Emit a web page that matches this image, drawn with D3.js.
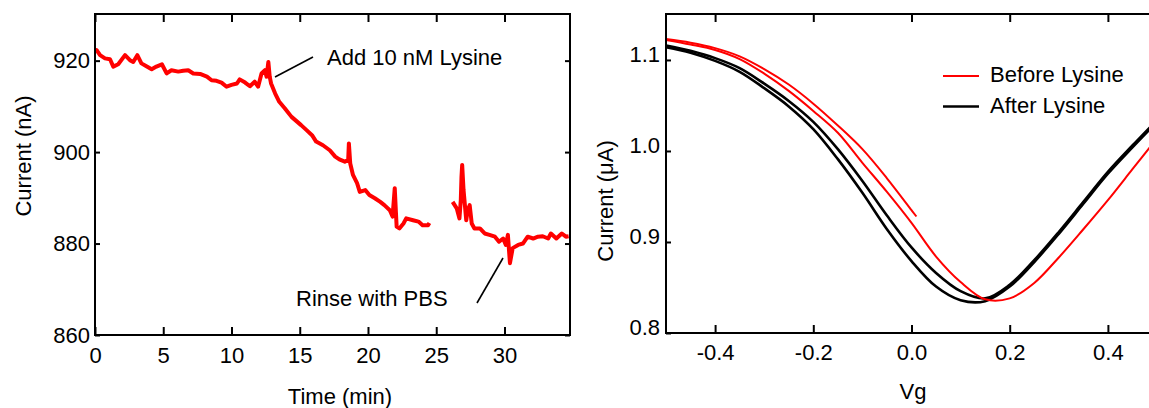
<!DOCTYPE html>
<html>
<head>
<meta charset="utf-8">
<script src="https://cdn.jsdelivr.net/npm/d3@7"></script>
<style>
  body { margin: 0; background: #fff; }
  svg text { font-family: "Liberation Sans", Arial, sans-serif; fill: #000; }
</style>
</head>
<body>
<svg id="chart" width="1149" height="408"></svg>
<script>
// ---- Real-time current trace (time in min, current in nA) ----
const timeSeg1 = [0, 0.12, 0.37, 0.73, 1.1, 1.34, 1.7, 2.2, 2.56, 2.8, 3.1, 3.4, 3.8, 4.15, 4.5, 4.9,
  5.25, 5.6, 6.1, 6.46, 6.83, 7.2, 7.7, 8.2, 8.54, 8.9, 9.27, 9.64, 10.0, 10.4, 10.6, 11.0, 11.35,
  11.7, 11.95, 12.2, 12.45, 12.57, 12.7, 12.8, 12.9, 13.2, 13.5, 13.9, 14.4, 15.1, 15.5, 15.9, 16.2,
  16.7, 17.2, 17.6, 17.9, 18.3, 18.55, 18.6, 18.7, 18.9, 19.2, 19.4, 19.8, 20.1, 20.5, 20.9, 21.2,
  21.6, 21.8, 21.96, 22.05, 22.1, 22.3, 22.6, 22.8, 23.3, 23.7, 24.0, 24.4, 24.5];
const currentSeg1 = [922.4, 922.3, 921.2, 920.5, 920.3, 918.7, 919.2, 921.2, 920.1, 919.7, 921.2, 919.4,
  918.7, 918.1, 918.7, 919.2, 917.2, 917.9, 917.6, 917.8, 917.9, 917.2, 917.1, 916.5, 915.7, 915.6,
  915.2, 914.3, 914.7, 915.0, 915.9, 915.2, 914.4, 915.4, 914.3, 917.2, 917.9, 916.5, 919.7, 916.5,
  915.0, 912.8, 911.0, 909.6, 907.7, 905.9, 904.8, 903.7, 902.3, 901.5, 900.4, 899.0, 898.4, 897.9,
  898.3, 901.9, 897.5, 895.0, 893.2, 891.3, 891.7, 890.6, 889.9, 889.1, 888.4, 887.3, 885.9, 892.1,
  886.6, 883.7, 883.3, 884.4, 885.5, 885.1, 884.8, 884.0, 884.0, 884.5];
const timeSeg2 = [26.2, 26.35, 26.5, 26.7, 26.8, 26.85, 26.9, 27.0, 27.2, 27.3, 27.45, 27.6, 27.8, 28.2,
  28.55, 28.9, 29.3, 29.6, 29.9, 30.1, 30.25, 30.4, 30.6, 31.0, 31.35, 31.7, 32.1, 32.45, 32.8, 33.2,
  33.4, 33.8, 34.2, 34.5, 34.7];
const currentSeg2 = [889.1, 888.4, 887.7, 885.5, 889.5, 894.6, 897.2, 891.7, 885.1, 887.3, 888.4, 884.4,
  883.3, 883.3, 882.2, 881.9, 881.5, 880.4, 881.1, 879.7, 881.9, 875.7, 879.0, 879.7, 880.0, 881.5,
  881.1, 881.5, 881.6, 881.1, 882.2, 881.1, 882.2, 881.5, 881.6];
const timeTicks = [0, 5, 10, 15, 20, 25, 30];
const currentTicks = [860, 880, 900, 920];

// ---- Transfer curves (Vg in V, current in µA) ----
const vgSweep = [-0.5, -0.45, -0.4, -0.35, -0.3, -0.25, -0.2, -0.15, -0.1, -0.05, 0.0, 0.05, 0.1,
  0.15, 0.2, 0.25, 0.3, 0.35, 0.4, 0.45, 0.5];
const vgPartial = [-0.5, -0.45, -0.4, -0.35, -0.3, -0.25, -0.2, -0.15, -0.1, -0.05, 0.0, 0.01];
const iBeforeA = [1.123, 1.119, 1.113, 1.104, 1.090, 1.073, 1.052, 1.028, 1.002, 0.970, 0.935, 0.928];
const iBeforeB = [1.122, 1.117, 1.111, 1.101, 1.085, 1.066, 1.044, 1.020, 0.987, 0.955, 0.921, 0.884,
  0.856, 0.837, 0.838, 0.855, 0.883, 0.914, 0.946, 0.980, 1.014];
const iAfterA = [1.114, 1.108, 1.099, 1.087, 1.069, 1.049, 1.024, 0.991, 0.954, 0.914, 0.879, 0.851,
  0.836, 0.835, 0.851, 0.878, 0.909, 0.942, 0.975, 1.004, 1.032];
const iAfterB = [1.116, 1.110, 1.102, 1.091, 1.074, 1.055, 1.032, 1.002, 0.967, 0.929, 0.894, 0.866,
  0.846, 0.838, 0.853, 0.880, 0.911, 0.944, 0.977, 1.006, 1.034];
const vgTicks = [-0.4, -0.2, 0.0, 0.2, 0.4];
const iTicks = [0.8, 0.9, 1.0, 1.1];

const legendLabels = ["Before Lysine", "After Lysine"];
const RED = "#ff0000", BLACK = "#000000";

const svg = d3.select("#chart");
const FONT = 22;

function zip(xs, ys) { return ys.map((y, i) => [xs[i], y]); }

// Frame + inward ticks on all four sides (labels on left/bottom only)
function drawFrame(g, x, y, opt) {
  const [x0, x1] = x.range(), [y0, y1] = y.range();
  const hide = () => "";
  g.append("g").attr("transform", `translate(0,${y0})`)
    .call(d3.axisBottom(x).tickValues(opt.xTicks).tickSize(-8).tickFormat(opt.xFmt))
    .call(a => a.select(".domain").remove())
    .call(a => a.selectAll("line").attr("stroke-width", 2))
    .call(a => a.selectAll("text").attr("y", opt.xLabelY).attr("dy", 0)
      .attr("font-size", FONT).attr("font-family", null));
  g.append("g").attr("transform", `translate(0,${y1})`)
    .call(d3.axisTop(x).tickValues(opt.xTicks).tickSize(-8).tickFormat(hide))
    .call(a => a.select(".domain").remove())
    .call(a => a.selectAll("line").attr("stroke-width", 2));
  g.append("g").attr("transform", `translate(${x0},0)`)
    .call(d3.axisLeft(y).tickValues(opt.yTicks).tickSize(-5).tickFormat(opt.yFmt))
    .call(a => a.select(".domain").remove())
    .call(a => a.selectAll("line").attr("stroke-width", 2))
    .call(a => a.selectAll("text").attr("x", opt.yLabelX).attr("dy", opt.yDy)
      .attr("font-size", FONT).attr("font-family", null));
  g.append("g").attr("transform", `translate(${x1},0)`)
    .call(d3.axisRight(y).tickValues(opt.yTicks).tickSize(-5).tickFormat(hide))
    .call(a => a.select(".domain").remove())
    .call(a => a.selectAll("line").attr("stroke-width", 2));
  g.append("rect").attr("x", x0).attr("y", y1).attr("width", x1 - x0).attr("height", y0 - y1)
    .attr("fill", "none").attr("stroke", "#000").attr("stroke-width", 2);
}

// ---------- Left panel: current vs time ----------
const xL = d3.scaleLinear().domain([0, 34.8]).range([95, 570]);
const yL = d3.scaleLinear().domain([860, 930.2]).range([335, 14]);
const left = svg.append("g");

const lineL = d3.line().x(d => xL(d[0])).y(d => yL(d[1]));
[zip(timeSeg1, currentSeg1), zip(timeSeg2, currentSeg2)].forEach(seg => {
  left.append("path").attr("d", lineL(seg)).attr("fill", "none").attr("stroke", RED)
    .attr("stroke-width", 4).attr("stroke-linejoin", "round").attr("stroke-linecap", "butt");
});

drawFrame(left, xL, yL, {
  xTicks: timeTicks, xFmt: d3.format("d"), xLabelY: 28,
  yTicks: currentTicks, yFmt: d3.format("d"), yLabelX: -5, yDy: "0.32em"
});

left.append("text").attr("x", 340).attr("y", 404).attr("text-anchor", "middle")
  .attr("font-size", FONT).text("Time (min)");
left.append("text").attr("transform", "translate(31,156) rotate(-90)").attr("text-anchor", "middle")
  .attr("font-size", FONT).text("Current (nA)");

// Event annotations
left.append("line").attr("x1", 275).attr("y1", 77).attr("x2", 313).attr("y2", 57)
  .attr("stroke", "#000").attr("stroke-width", 1.6);
left.append("text").attr("x", 327).attr("y", 65).attr("font-size", FONT).text("Add 10 nM Lysine");
left.append("line").attr("x1", 477).attr("y1", 303).attr("x2", 503).attr("y2", 258)
  .attr("stroke", "#000").attr("stroke-width", 1.6);
left.append("text").attr("x", 296).attr("y", 306).attr("font-size", FONT).text("Rinse with PBS");

// ---------- Right panel: transfer curves ----------
const xR = d3.scaleLinear().domain([-0.5, 0.5]).range([666, 1157]);
const yR = d3.scaleLinear().domain([0.8, 1.1505]).range([333, 14]);
const right = svg.append("g");

const lineR = d3.line().x(d => xR(d[0])).y(d => yR(d[1])).curve(d3.curveCatmullRom.alpha(0.5));
const curves = [
  { vg: vgSweep, cur: iAfterA, color: BLACK, w: 2.6 },
  { vg: vgSweep, cur: iAfterB, color: BLACK, w: 2.6 },
  { vg: vgPartial, cur: iBeforeA, color: RED, w: 2 },
  { vg: vgSweep, cur: iBeforeB, color: RED, w: 2 }
];
curves.forEach(c => {
  right.append("path").attr("d", lineR(zip(c.vg, c.cur))).attr("fill", "none")
    .attr("stroke", c.color).attr("stroke-width", c.w);
});

drawFrame(right, xR, yR, {
  xTicks: vgTicks, xFmt: d3.format(".1f"), xLabelY: 26.5,
  yTicks: iTicks, yFmt: d3.format(".1f"), yLabelX: -6, yDy: "0.05em"
});
// tick labels use a plain hyphen for negative values
right.selectAll("text").each(function () {
  const t = d3.select(this); t.text(t.text().replace("\u2212", "-"));
});

right.append("text").attr("x", 913).attr("y", 399).attr("text-anchor", "middle")
  .attr("font-size", FONT).text("Vg");
right.append("text").attr("transform", "translate(613,201) rotate(-90)").attr("text-anchor", "middle")
  .attr("font-size", FONT).text("Current (\u03bcA)");

// Legend
const legend = right.append("g");
[RED, BLACK].forEach((col, i) => {
  const yy = 76 + i * 30.5;
  legend.append("line").attr("x1", 943).attr("x2", 979).attr("y1", yy).attr("y2", yy)
    .attr("stroke", col).attr("stroke-width", i === 0 ? 2 : 2.6);
  legend.append("text").attr("x", 990).attr("y", yy + 6).attr("font-size", FONT).text(legendLabels[i]);
});
</script>
</body>
</html>
